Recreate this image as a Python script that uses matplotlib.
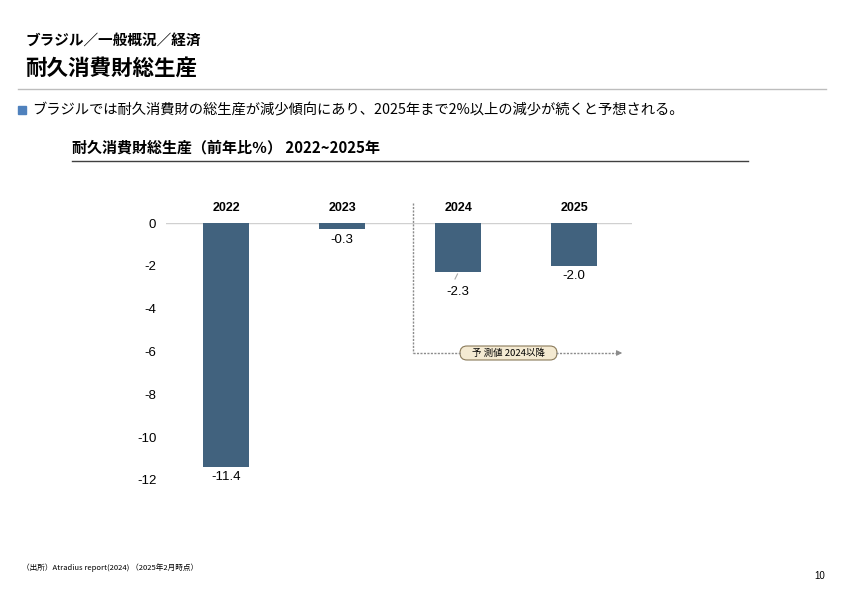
import matplotlib
matplotlib.use("Agg")
import matplotlib.pyplot as plt
from matplotlib.patches import FancyBboxPatch

plt.rcParams['font.family'] = ['Liberation Sans', 'Noto Sans CJK JP', 'DejaVu Sans']

years = ["2022", "2023", "2024", "2025"]
values = [-11.4, -0.3, -2.3, -2.0]
yticks = [0, -2, -4, -6, -8, -10, -12]
forecast_label = "予 測値 2024以降"

W, H = 842, 595
fig = plt.figure(figsize=(W / 100, H / 100), dpi=100)

def fx(px):
    return px / W

def fy(py):
    return 1 - py / H

bar_color = "#41627E"

ax = fig.add_axes([fx(166), fy(480), fx(632) - fx(166), fy(223) - fy(480)])
x = list(range(len(years)))
ax.bar(x, values, width=0.4, color=bar_color, zorder=3)
ax.set_xlim(-0.52, 3.5)
ax.set_ylim(-12, 0)
for s in ax.spines.values():
    s.set_visible(False)
ax.set_xticks([])
ax.set_yticks(yticks)
ax.set_yticklabels([str(t) for t in yticks], fontsize=9.5)
ax.tick_params(axis='y', length=0, pad=7)
ax.axhline(0, color="#D0D0D0", lw=1, zorder=1)

# year labels above
for xi, yr in zip(x, years):
    ax.annotate(yr, (xi, 0), xytext=(0, 6.5), textcoords='offset points',
                ha='center', va='bottom', fontsize=9, fontweight='bold')

# value labels
offsets = {0: (0, -3), 1: (0, -3), 2: (0, -10), 3: (0, -3)}
for xi, v in zip(x, values):
    dx, dy = offsets[xi]
    ax.annotate(f"{v:.1f}", (xi, v), xytext=(dx, dy), textcoords='offset points',
                ha='center', va='top', fontsize=9.5)

ax2 = fig.add_axes([0, 0, 1, 1], facecolor='none')
ax2.set_xlim(0, W)
ax2.set_ylim(H, 0)
ax2.axis('off')

# leader line for 2024
ax2.plot([455, 457.5], [279, 274], color="#A8A8A8", lw=0.8)

# forecast divider
dash_col = "#8C8C8C"
ax2.plot([413, 413], [203, 353], color=dash_col, lw=1, ls=(0, (1.5, 1)))
ax2.plot([413, 461], [353, 353], color=dash_col, lw=1, ls=(0, (1.5, 1)))
ax2.plot([556, 617], [353, 353], color=dash_col, lw=1, ls=(0, (1.5, 1)))
ax2.annotate("", xy=(625, 353), xytext=(614, 353),
             arrowprops=dict(arrowstyle='-|>', color=dash_col, lw=0.8, mutation_scale=8))
pill = FancyBboxPatch((460, 346), 97, 14, boxstyle='round,pad=0,rounding_size=7',
                      fc='#F4EAD2', ec='#8A7A5A', lw=0.8)
ax2.add_patch(pill)
ax2.text(508.5, 353.3, forecast_label, ha='center', va='center', fontsize=6.8,
         family=['Noto Sans CJK JP'])

# header texts
ax2.text(25, 41, "ブラジル／一般概況／経済", fontsize=10.5, fontweight='bold',
         family=['Noto Sans CJK JP'], va='center', ha='left')
ax2.text(25, 68, "耐久消費財総生産", fontsize=15.5, fontweight='bold',
         family=['Noto Sans CJK JP'], va='center', ha='left')
ax2.plot([18, 826], [89, 89], color="#BDBDBD", lw=1)
ax2.add_patch(plt.Rectangle((18, 106), 8, 8, color="#4F81BD"))
ax2.text(32, 110, "ブラジルでは耐久消費財の総生産が減少傾向にあり、2025年まで2%以上の減少が続くと予想される。",
         fontsize=10.3, va='center', ha='left', family=['Noto Sans CJK JP'])
ax2.text(72, 147, "耐久消費財総生産（前年比％） 2022~2025年", fontsize=10.8, fontweight='bold',
         va='center', ha='left', family=['Noto Sans CJK JP'])
ax2.plot([72, 748], [161, 161], color="#404040", lw=1)

ax2.text(22, 568, "（出所）Atradius report(2024) （2025年2月時点）", fontsize=5.5, va='center', ha='left',
         family=['Noto Sans CJK JP'])
ax2.text(825, 576, "10", fontsize=7, va='center', ha='right')

fig.savefig("out.png", dpi=100)
